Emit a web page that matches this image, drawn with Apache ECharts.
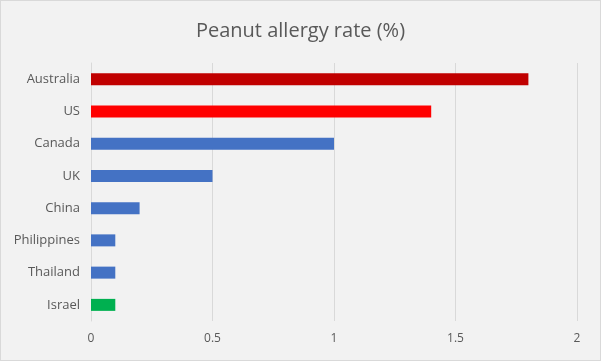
<!DOCTYPE html>
<html><head><meta charset="utf-8">
<script src="https://cdn.jsdelivr.net/npm/echarts@6/dist/echarts.min.js"></script>
<style>
html,body{margin:0;padding:0;background:#fff;}
#c{width:601px;height:361px;box-sizing:border-box;border:1px solid #D9D9D9;background:#F2F2F2;}
</style></head>
<body><div id="c"></div>
<script>
const categories = ["Australia","US","Canada","UK","China","Philippines","Thailand","Israel"];
const values = [1.8, 1.4, 1.0, 0.5, 0.2, 0.1, 0.1, 0.1];
const barColors = ["#C00000","#FF0000","#4472C4","#4472C4","#4472C4","#4472C4","#4472C4","#00B050"];
const xTicks = [0, 0.5, 1, 1.5, 2];

const chart = echarts.init(document.getElementById('c'));
chart.setOption({
  backgroundColor: '#F2F2F2',
  animation: false,
  title: {
    text: 'Peanut allergy rate (%)',
    left: 'center', top: 15,
    textStyle: {fontFamily: 'Open Sans', fontSize: 20, fontWeight: 'normal', color: '#595959'}
  },
  grid: {left: 90, right: 23, top: 62, bottom: 39},
  xAxis: {
    type: 'value', min: xTicks[0], max: xTicks[xTicks.length-1], interval: 0.5,
    axisLine: {show: false}, axisTick: {show: false},
    splitLine: {lineStyle: {color: '#D9D9D9', width: 1}},
    axisLabel: {color: '#595959', fontFamily: 'Open Sans', fontSize: 12, margin: 12,
      formatter: v => String(v)}
  },
  yAxis: {
    type: 'category', data: categories, inverse: true,
    axisLine: {lineStyle: {color: '#D9D9D9'}}, axisTick: {show: false},
    axisLabel: {color: '#595959', fontFamily: 'Open Sans', fontSize: 13, margin: 11}
  },
  series: [{
    type: 'bar', barWidth: 12,
    data: values.map((v, i) => ({value: v, itemStyle: {color: barColors[i]}}))
  }]
});
</script></body></html>
